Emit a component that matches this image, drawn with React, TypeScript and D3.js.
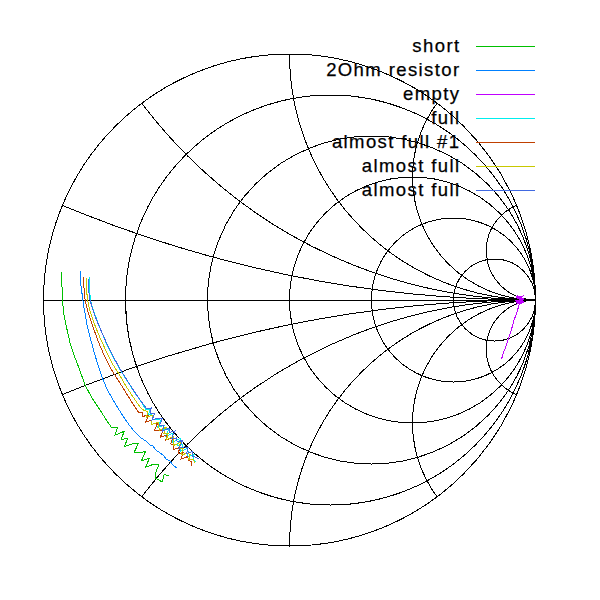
import React from 'react';
import * as d3 from 'd3';

type Pt = [number, number];

// Smith chart grid: constant-resistance circles and constant-reactance arcs
const resistanceValues = [0.2, 0.5, 1, 2, 5];
const reactanceValues = [0.2, 0.5, 1, 2, 5, -0.2, -0.5, -1, -2, -5];

// Measured reflection coefficients [Re Γ, Im Γ]
const shortGamma: Pt[] = [
  [-0.927, 0.114], [-0.925, 0.061], [-0.923, 0], [-0.917, -0.061], [-0.904, -0.122],
  [-0.892, -0.175], [-0.876, -0.224], [-0.856, -0.276], [-0.831, -0.346], [-0.803, -0.398],
  [-0.770, -0.447], [-0.742, -0.492], [-0.722, -0.520], [-0.699, -0.518], [-0.709, -0.549],
  [-0.672, -0.534], [-0.684, -0.567], [-0.658, -0.562], [-0.671, -0.596], [-0.639, -0.585],
  [-0.614, -0.582], [-0.632, -0.621], [-0.609, -0.619], [-0.586, -0.617], [-0.602, -0.654],
  [-0.570, -0.644], [-0.585, -0.680], [-0.551, -0.667], [-0.531, -0.668], [-0.544, -0.702],
  [-0.544, -0.724], [-0.518, -0.740], [-0.510, -0.711], [-0.490, -0.712],
];

const resistorGamma: Pt[] = [
  [-0.850, 0.118], [-0.848, 0.061], [-0.841, 0.008], [-0.835, -0.033], [-0.823, -0.102],
  [-0.811, -0.150], [-0.791, -0.224], [-0.764, -0.309], [-0.742, -0.362], [-0.717, -0.407],
  [-0.685, -0.459], [-0.652, -0.508], [-0.628, -0.537], [-0.608, -0.557], [-0.591, -0.569],
  [-0.579, -0.577], [-0.567, -0.589], [-0.555, -0.593], [-0.543, -0.610], [-0.526, -0.622],
  [-0.514, -0.630], [-0.502, -0.646], [-0.486, -0.654], [-0.474, -0.671], [-0.457, -0.683],
];

const emptyGamma: Pt[] = [
  [0.925, 0.004], [0.945, 0.012], [0.933, -0.004], [0.953, 0.004], [0.929, 0.016],
  [0.941, -0.012], [0.921, -0.008], [0.949, -0.004], [0.937, 0.008], [0.921, 0.012],
  [0.949, 0.016], [0.925, -0.016], [0.953, -0.008], [0.917, 0], [0.945, -0.016],
  [0.929, -0.004], [0.941, 0.008], [0.933, -0.020], [0.925, -0.049], [0.913, -0.081],
  [0.904, -0.114], [0.892, -0.150], [0.880, -0.187], [0.868, -0.220], [0.862, -0.240],
];

const fullGamma: Pt[] = [
  [-0.815, 0.093], [-0.813, 0.041], [-0.809, 0], [-0.799, -0.037], [-0.783, -0.081],
  [-0.762, -0.134], [-0.742, -0.183], [-0.717, -0.232], [-0.693, -0.276], [-0.665, -0.321],
  [-0.636, -0.366], [-0.608, -0.407], [-0.584, -0.444], [-0.568, -0.445], [-0.573, -0.468],
  [-0.548, -0.460], [-0.559, -0.488], [-0.539, -0.485], [-0.519, -0.483], [-0.537, -0.518],
  [-0.510, -0.509], [-0.511, -0.527], [-0.488, -0.521], [-0.505, -0.555], [-0.475, -0.542],
  [-0.474, -0.559], [-0.475, -0.577], [-0.443, -0.563], [-0.455, -0.591], [-0.434, -0.588],
  [-0.444, -0.615], [-0.415, -0.604], [-0.412, -0.618], [-0.416, -0.639], [-0.387, -0.627],
  [-0.393, -0.650], [-0.381, -0.656],
];

const almostFull1Gamma: Pt[] = [
  [-0.837, 0.093], [-0.835, 0.041], [-0.831, 0], [-0.819, -0.049], [-0.803, -0.098],
  [-0.778, -0.167], [-0.754, -0.224], [-0.726, -0.280], [-0.697, -0.325], [-0.669, -0.370],
  [-0.636, -0.423], [-0.612, -0.459], [-0.596, -0.456], [-0.596, -0.473], [-0.573, -0.468],
  [-0.585, -0.497], [-0.559, -0.488], [-0.559, -0.505], [-0.536, -0.500], [-0.548, -0.529],
  [-0.530, -0.529], [-0.514, -0.530], [-0.525, -0.558], [-0.500, -0.550], [-0.503, -0.570],
  [-0.474, -0.559], [-0.483, -0.585], [-0.469, -0.589], [-0.472, -0.608], [-0.446, -0.600],
  [-0.452, -0.623], [-0.432, -0.621], [-0.441, -0.647], [-0.413, -0.636], [-0.412, -0.652],
  [-0.399, -0.656], [-0.398, -0.673],
];

const almostFull2Gamma: Pt[] = [
  [-0.827, 0.089], [-0.825, 0.041], [-0.821, 0], [-0.811, -0.045], [-0.795, -0.093],
  [-0.770, -0.154], [-0.746, -0.207], [-0.722, -0.256], [-0.693, -0.301], [-0.665, -0.350],
  [-0.636, -0.394], [-0.608, -0.435], [-0.590, -0.450], [-0.576, -0.453], [-0.581, -0.476],
  [-0.556, -0.468], [-0.559, -0.488], [-0.559, -0.505], [-0.533, -0.497], [-0.531, -0.512],
  [-0.530, -0.529], [-0.502, -0.518], [-0.511, -0.544], [-0.494, -0.544], [-0.500, -0.567],
  [-0.471, -0.556], [-0.472, -0.574], [-0.471, -0.591], [-0.443, -0.579], [-0.449, -0.603],
  [-0.432, -0.603], [-0.440, -0.629], [-0.418, -0.624], [-0.404, -0.627], [-0.410, -0.650],
  [-0.390, -0.647], [-0.387, -0.662],
];

const almostFull3Gamma: Pt[] = [
  [-0.819, 0.085], [-0.817, 0.041], [-0.811, 0], [-0.799, -0.041], [-0.783, -0.085],
  [-0.762, -0.134], [-0.738, -0.187], [-0.713, -0.236], [-0.689, -0.280], [-0.661, -0.325],
  [-0.632, -0.370], [-0.604, -0.411], [-0.581, -0.441], [-0.562, -0.439], [-0.567, -0.462],
  [-0.548, -0.460], [-0.559, -0.488], [-0.534, -0.480], [-0.516, -0.480], [-0.528, -0.509],
  [-0.510, -0.509], [-0.517, -0.533], [-0.488, -0.521], [-0.488, -0.538], [-0.466, -0.533],
  [-0.480, -0.565], [-0.458, -0.560], [-0.457, -0.577], [-0.435, -0.571], [-0.449, -0.603],
  [-0.426, -0.597], [-0.412, -0.601], [-0.418, -0.624], [-0.393, -0.616], [-0.395, -0.635],
  [-0.382, -0.639], [-0.370, -0.645],
];

const seriesNames = ['short', '2Ohm resistor', 'empty', 'full', 'almost full #1', 'almost full', 'almost full'];
const seriesColors = ['#00c000', '#0080ff', '#c000ff', '#00eeee', '#c04000', '#c8c800', '#4169e1'];
const seriesData: Pt[][] = [
  shortGamma, resistorGamma, emptyGamma, fullGamma, almostFull1Gamma, almostFull2Gamma, almostFull3Gamma,
];

const W = 600;
const H = 600;
const CX = 289.5;
const CY = 300;
const R = 246;

export default function App() {
  const sx = d3.scaleLinear().domain([-1, 1]).range([CX - R, CX + R]);
  const sy = d3.scaleLinear().domain([-1, 1]).range([CY + R, CY - R]);
  const len = (v: number) => sx(v) - sx(0);
  const line = d3.line<Pt>().x((d) => sx(d[0])).y((d) => sy(d[1]));

  const legendTop = 46.5;
  const legendStep = 24;

  return (
    <svg
      width={W}
      height={H}
      style={{ position: 'absolute', left: 0, top: 0, background: '#fff' }}
      shapeRendering="crispEdges"
    >
      <defs>
        <clipPath id="unit-disk">
          <circle cx={sx(0)} cy={sy(0)} r={len(1)} />
        </clipPath>
      </defs>

      <g fill="none" stroke="#000" strokeWidth={1}>
        <g clipPath="url(#unit-disk)">
          {resistanceValues.map((r) => (
            <circle key={`r${r}`} cx={sx(r / (1 + r))} cy={sy(0)} r={len(1 / (1 + r))} />
          ))}
          {reactanceValues.map((x) => (
            <circle key={`x${x}`} cx={sx(1)} cy={sy(1 / x)} r={len(Math.abs(1 / x))} />
          ))}
        </g>
        <circle cx={sx(0)} cy={sy(0)} r={len(1)} />
        <line x1={sx(-1)} y1={sy(0)} x2={sx(1)} y2={sy(0)} />
      </g>

      <g fill="none" strokeWidth={1}>
        {seriesData.map((pts, i) => (
          <path key={`s${i}`} d={line(pts) ?? ''} stroke={seriesColors[i]} />
        ))}
      </g>

      <g
        fontFamily="'Liberation Sans', Arial, sans-serif"
        fontSize={18.5}
        letterSpacing={1.4}
        fill="#000"
        stroke="#000"
        strokeWidth={0.25}
        shapeRendering="auto"
      >
        {seriesNames.map((name, i) => {
          const y = legendTop + i * legendStep;
          return (
            <g key={`l${i}`}>
              <text x={460.5} y={y + 5.5} textAnchor="end">
                {name}
              </text>
              <line x1={476} x2={535} y1={y} y2={y} stroke={seriesColors[i]} strokeWidth={1} shapeRendering="crispEdges" />
            </g>
          );
        })}
      </g>
    </svg>
  );
}
